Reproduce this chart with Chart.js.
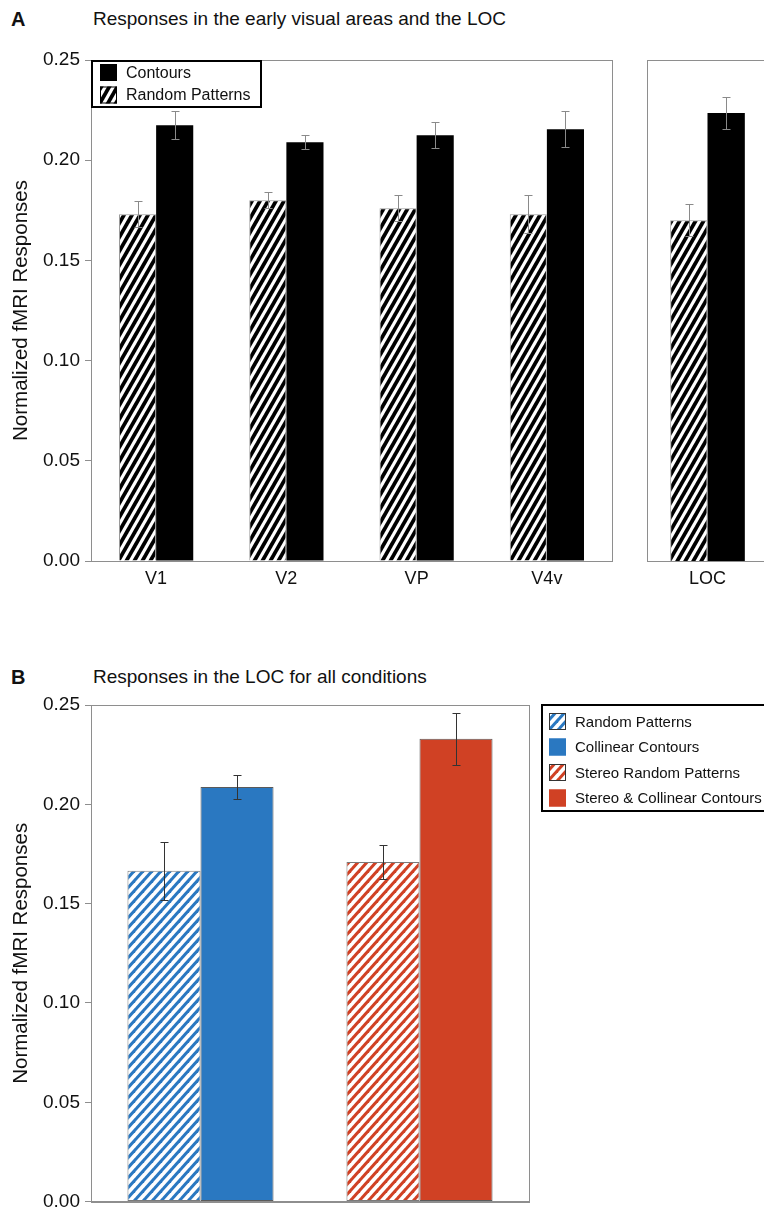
<!DOCTYPE html>
<html>
<head>
<meta charset="utf-8">
<script src="https://cdn.jsdelivr.net/npm/chart.js@4.4.0/dist/chart.umd.min.js"></script>
<style>
html, body { margin: 0; padding: 0; background: #fff; width: 764px; height: 1218px; overflow: hidden; position: relative;
  font-family: "Liberation Sans", Helvetica, Arial, sans-serif; }
.lab { position: absolute; font-size: 19px; color: #111; white-space: nowrap; line-height: 1; }
.letter { font-weight: bold; font-size: 20px; }
canvas { position: absolute; }
</style>
</head>
<body>
<div class="lab letter" style="left:11px;top:9px">A</div>
<div class="lab" style="left:93px;top:9px">Responses in the early visual areas and the LOC</div>
<canvas id="chartA" width="620" height="580" style="left:0;top:40px"></canvas>
<canvas id="chartLoc" width="121" height="580" style="left:647px;top:40px"></canvas>
<div class="lab letter" style="left:11px;top:667px">B</div>
<div class="lab" style="left:93px;top:667px">Responses in the LOC for all conditions</div>
<canvas id="chartB" width="764" height="538" style="left:0;top:680px"></canvas>

<script>
// panel A: early visual areas
var areaLabels = ["V1", "V2", "VP", "V4v"];
var areaRandom = [0.173, 0.180, 0.176, 0.173];
var areaRandomErr = [0.0065, 0.004, 0.0065, 0.0095];
var areaContours = [0.2175, 0.209, 0.2125, 0.2155];
var areaContoursErr = [0.007, 0.0035, 0.0065, 0.009];

// panel A: LOC (separate box)
var locLabels = ["LOC"];
var locRandom = [0.170];
var locRandomErr = [0.008];
var locContours = [0.2235];
var locContoursErr = [0.008];

// panel B: LOC, all conditions
var condGroups = ["Monocular", "Stereo"];
var condRandom = [0.1665, 0.171];
var condRandomErr = [0.0145, 0.0087];
var condContours = [0.2087, 0.233];
var condContoursErr = [0.006, 0.013];
var condLabels = ["Random Patterns", "Collinear Contours", "Stereo Random Patterns", "Stereo & Collinear Contours"];

var yTicks = [0, 0.05, 0.10, 0.15, 0.20, 0.25];

var FONT = '"Liberation Sans", Helvetica, Arial, sans-serif';
var axisGrey = '#8e8e8e';
var blue = '#2a78c1';
var red = '#d04124';

function stripes(fg, bg, w, h, lw) {
  var c = document.createElement('canvas');
  c.width = w; c.height = h;
  var g = c.getContext('2d');
  g.fillStyle = bg; g.fillRect(0, 0, w, h);
  g.strokeStyle = fg; g.lineWidth = lw;
  for (var k = -1; k <= 1; k++) {
    g.beginPath();
    g.moveTo(k * w - w, 2 * h);
    g.lineTo(k * w + 2 * w, -h);
    g.stroke();
  }
  return g.createPattern(c, 'repeat');
}

var hatchBW = stripes('#000', '#fff', 8, 14, 3.8);
var hatchBlue = stripes(blue, '#fff', 9, 10, 3);
var hatchRed = stripes(red, '#fff', 9, 10, 3);

// box around the plot area
var frame = {
  id: 'frame',
  beforeDatasetsDraw: function(chart) {
    var a = chart.chartArea, ctx = chart.ctx;
    ctx.save();
    ctx.strokeStyle = axisGrey;
    ctx.lineWidth = 1;
    ctx.strokeRect(Math.round(a.left) + 0.5, Math.round(a.top) + 0.5, Math.round(a.right - a.left), Math.round(a.bottom - a.top));
    ctx.restore();
  }
};

function errorBars(color, cap) {
  return {
    id: 'errorBars',
    afterDatasetsDraw: function(chart) {
      var ctx = chart.ctx, ys = chart.scales.y;
      ctx.save();
      ctx.strokeStyle = color;
      ctx.lineWidth = 1;
      chart.data.datasets.forEach(function(ds, i) {
        if (!ds.errors) return;
        chart.getDatasetMeta(i).data.forEach(function(bar, j) {
          var v = ds.data[j], e = ds.errors[j];
          var x = Math.round(bar.x) + 0.5;
          var yt = Math.round(ys.getPixelForValue(v + e)) + 0.5;
          var yb = Math.round(ys.getPixelForValue(v - e)) + 0.5;
          ctx.beginPath();
          ctx.moveTo(x, yt); ctx.lineTo(x, yb);
          ctx.moveTo(x - cap / 2, yt); ctx.lineTo(x + cap / 2, yt);
          ctx.moveTo(x - cap / 2, yb); ctx.lineTo(x + cap / 2, yb);
          ctx.stroke();
        });
      });
      ctx.restore();
    }
  };
}

function boxLegend(items, g) {
  return {
    id: 'boxLegend',
    afterDraw: function(chart) {
      var ctx = chart.ctx;
      ctx.save();
      ctx.fillStyle = '#fff';
      ctx.fillRect(g.x, g.y, g.w, g.h);
      ctx.lineWidth = 2;
      ctx.strokeStyle = '#000';
      ctx.strokeRect(g.x + 1, g.y + 1, g.w - 2, g.h - 2);
      items.forEach(function(it, i) {
        var sy = g.y + g.pad + i * g.row;
        ctx.fillStyle = it.fill;
        ctx.fillRect(g.x + g.sx, sy, g.sw, g.sw);
        ctx.lineWidth = 1;
        ctx.strokeStyle = it.stroke;
        ctx.strokeRect(g.x + g.sx + 0.5, sy + 0.5, g.sw - 1, g.sw - 1);
        ctx.fillStyle = '#111';
        ctx.font = g.size + 'px ' + FONT;
        ctx.textBaseline = 'middle';
        ctx.fillText(it.text, g.x + g.tx, sy + g.sw / 2 + 1);
      });
      ctx.restore();
    }
  };
}

function yScale(showAxis) {
  return {
    display: showAxis,
    min: 0, max: 0.25,
    afterBuildTicks: function(s) { s.ticks = yTicks.map(function(v) { return { value: v }; }); },
    ticks: { color: '#111', padding: 5, font: { family: FONT, size: 19 },
      callback: function(v) { return Number(v).toFixed(2); } },
    grid: { drawOnChartArea: false, tickLength: 6, color: axisGrey },
    border: { color: axisGrey },
    title: { display: true, text: 'Normalized fMRI Responses', color: '#111',
      font: { family: FONT, size: 20.5 }, padding: { top: 9, bottom: 0 } },
    afterFit: function(s) { if (showAxis) s.width = 91; }
  };
}

Chart.defaults.font.family = FONT;

new Chart(document.getElementById('chartA'), {
  type: 'bar',
  data: {
    labels: areaLabels,
    datasets: [
      { label: 'Random Patterns', data: areaRandom, errors: areaRandomErr, backgroundColor: hatchBW,
        borderColor: '#9a9a9a', borderWidth: 1, categoryPercentage: 0.57, barPercentage: 1 },
      { label: 'Contours', data: areaContours, errors: areaContoursErr, backgroundColor: '#000',
        borderWidth: 0, categoryPercentage: 0.57, barPercentage: 1 }
    ]
  },
  options: {
    responsive: false, animation: false,
    layout: { padding: { top: 20, right: 8, left: 0, bottom: 0 } },
    plugins: { legend: { display: false }, tooltip: { enabled: false } },
    scales: {
      x: { grid: { display: false, drawTicks: false }, border: { color: axisGrey },
        ticks: { color: '#111', padding: 7, font: { family: FONT, size: 18 } },
        afterFit: function(s) { s.height = 59; } },
      y: yScale(true)
    }
  },
  plugins: [frame, errorBars('#8a8a8a', 8), boxLegend([
    { text: 'Contours', fill: '#000', stroke: '#000' },
    { text: 'Random Patterns', fill: hatchBW, stroke: '#000' }
  ], { x: 91, y: 20, w: 171, h: 48, pad: 4, row: 22.5, sx: 9, sw: 17, tx: 35, size: 16 })]
});

new Chart(document.getElementById('chartLoc'), {
  type: 'bar',
  data: {
    labels: locLabels,
    datasets: [
      { label: 'Random Patterns', data: locRandom, errors: locRandomErr, backgroundColor: hatchBW,
        borderColor: '#9a9a9a', borderWidth: 1, categoryPercentage: 0.617, barPercentage: 1 },
      { label: 'Contours', data: locContours, errors: locContoursErr, backgroundColor: '#000',
        borderWidth: 0, categoryPercentage: 0.617, barPercentage: 1 }
    ]
  },
  options: {
    responsive: false, animation: false,
    layout: { padding: { top: 20, right: 0, left: 0, bottom: 0 } },
    plugins: { legend: { display: false }, tooltip: { enabled: false } },
    scales: {
      x: { grid: { display: false, drawTicks: false }, border: { color: axisGrey },
        ticks: { color: '#111', padding: 7, font: { family: FONT, size: 18 } },
        afterFit: function(s) { s.height = 59; } },
      y: yScale(false)
    }
  },
  plugins: [frame, errorBars('#8a8a8a', 8)]
});

new Chart(document.getElementById('chartB'), {
  type: 'bar',
  data: {
    labels: condGroups,
    datasets: [
      { label: 'Random Patterns', data: condRandom, errors: condRandomErr, backgroundColor: [hatchBlue, hatchRed],
        borderColor: '#7a7a7a', borderWidth: 1, borderSkipped: false, categoryPercentage: 0.667, barPercentage: 1 },
      { label: 'Contours', data: condContours, errors: condContoursErr, backgroundColor: [blue, red],
        borderColor: '#5a5a5a', borderWidth: 1, borderSkipped: false, categoryPercentage: 0.667, barPercentage: 1 }
    ]
  },
  options: {
    responsive: false, animation: false,
    layout: { padding: { top: 25, right: 235, left: 0, bottom: 0 } },
    plugins: { legend: { display: false }, tooltip: { enabled: false } },
    scales: {
      x: { grid: { display: false, drawTicks: false }, border: { color: axisGrey },
        ticks: { display: false },
        afterFit: function(s) { s.height = 10; } },
      y: yScale(true)
    }
  },
  plugins: [frame, errorBars('#333', 8), boxLegend([
    { text: condLabels[0], fill: hatchBlue, stroke: '#333' },
    { text: condLabels[1], fill: blue, stroke: blue },
    { text: condLabels[2], fill: hatchRed, stroke: '#333' },
    { text: condLabels[3], fill: red, stroke: red }
  ], { x: 541, y: 24, w: 240, h: 108, pad: 9, row: 25.5, sx: 8, sw: 17, tx: 34, size: 15 })]
});
</script>
</body>
</html>
